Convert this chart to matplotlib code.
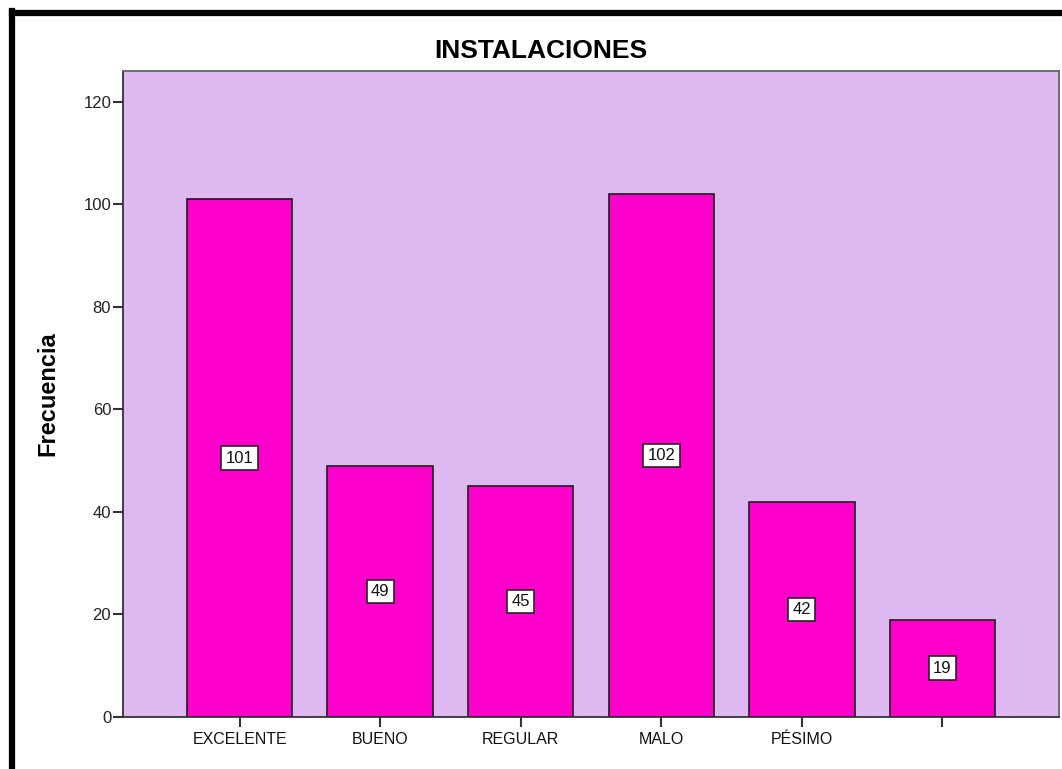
import matplotlib
matplotlib.use("Agg")
from matplotlib import pyplot as plt
from matplotlib.lines import Line2D

categorias = ["EXCELENTE", "BUENO", "REGULAR", "MALO", "PÉSIMO", ""]
frecuencias = [101, 49, 45, 102, 42, 19]
yticks = [0, 20, 40, 60, 80, 100, 120]

plt.rcParams['font.family'] = ['Liberation Sans', 'DejaVu Sans']

fig = plt.figure(figsize=(10.62, 7.69), dpi=100)
ax = fig.add_axes([123 / 1062, 1 - 717 / 769, (1059 - 123) / 1062, (717 - 71) / 769])
ax.set_facecolor("#DEB9F1")

pos = list(range(len(categorias)))
bars = ax.bar(pos, frecuencias, width=0.75, color="#FF00CC", edgecolor="#1a1a1a", linewidth=1.2, zorder=2)

# etiquetas con el valor en medio de cada barra
for b, v in zip(bars, frecuencias):
    ax.text(b.get_x() + b.get_width() / 2, v / 2, str(v), ha="center", va="center",
            fontsize=12, zorder=3, color="#111111",
            bbox=dict(boxstyle="square,pad=0.26", fc="white", ec="#222222", lw=1.2))

ax.set_xlim(-0.83, 5.83)
ax.set_ylim(0, 126)
ax.set_xticks(pos)
ax.set_xticklabels(categorias, fontsize=11.5, color="#111111")
ax.set_yticks(yticks)
ax.set_yticklabels([str(t) for t in yticks], fontsize=12, color="#222222")
ax.tick_params(axis="x", length=7.5, width=1.5, color="#333333", pad=3)
ax.tick_params(axis="y", length=7.5, width=1.5, color="#333333", pad=1)
for s in ax.spines.values():
    s.set_color("#666666")
    s.set_linewidth(1.3)
ax.spines["left"].set_color("#333333")
ax.spines["bottom"].set_color("#333333")

ax.set_ylabel("Frecuencia", fontsize=17, fontweight="bold", labelpad=17)
# el título va centrado en la figura, no sobre los ejes
fig.text(541 / 1062, 1 - 51 / 769, "INSTALACIONES", fontsize=19, fontweight="bold",
         ha="center", va="center")

# marco negro exterior
fig.add_artist(Line2D([11.5 / 1062, 11.5 / 1062], [0, 1 - 11 / 769], color="black", lw=4.5,
                      transform=fig.transFigure, solid_capstyle="projecting"))
fig.add_artist(Line2D([11.5 / 1062, 1.01], [1 - 13 / 769, 1 - 13 / 769], color="black", lw=4.5,
                      transform=fig.transFigure))

fig.savefig("out.png", dpi=100, facecolor="white")
